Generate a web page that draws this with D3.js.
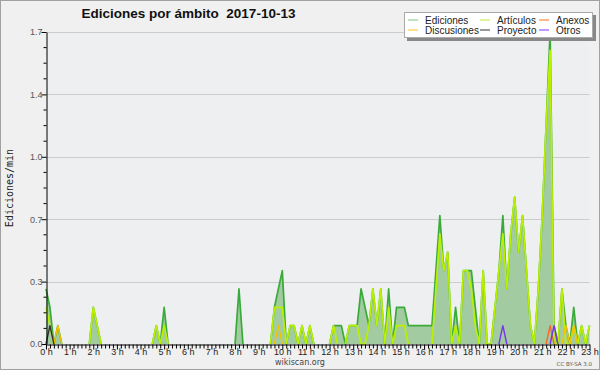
<!DOCTYPE html>
<html>
<head>
<meta charset="utf-8">
<script src="https://cdn.jsdelivr.net/npm/d3@7"></script>
<style>
  body { margin: 0; background: #fff; }
  svg { display: block; }
</style>
</head>
<body>
<script>
// edits per minute, one value every 10 minutes (0 h .. 23 h)
var ediciones = [
  0.3,0.2,0,0.1,0,0,0,0,0,0,0,0,
  0.2,0.1,0,0,0,0,0,0,0,0,0,0,
  0,0,0,0,0.1,0,0.2,0,0,0,0,0,
  0,0,0,0,0,0,0,0,0,0,0,0,
  0,0.3,0,0,0,0,0,0,0,0,0.2,0.3,
  0.4,0,0.1,0.1,0,0.1,0,0.1,0,0,0,0,
  0,0.1,0.1,0.1,0,0.1,0.1,0.1,0.3,0.2,0.1,0.3,
  0.1,0.3,0,0.3,0,0.2,0.2,0.2,0.1,0.1,0.1,0.1,
  0.1,0.1,0.1,0.4,0.7,0.4,0.5,0,0.2,0,0.4,0.4,
  0.4,0.2,0,0.4,0,0,0.2,0.4,0.7,0.3,0.6,0.8,
  0.5,0.7,0.4,0.1,0,0.3,0.7,1.2,1.7,0.1,0,0.3,
  0.1,0,0.2,0,0.1,0,0.1
];
var articulos = [
  0.2,0.1,0,0,0,0,0,0,0,0,0,0,
  0.2,0.1,0,0,0,0,0,0,0,0,0,0,
  0,0,0,0,0.1,0,0.1,0,0,0,0,0,
  0,0,0,0,0,0,0,0,0,0,0,0,
  0,0,0,0,0,0,0,0,0,0,0.2,0.2,
  0.2,0,0.1,0.1,0,0.1,0,0.1,0,0,0,0,
  0,0.1,0,0,0,0.1,0.1,0.1,0,0,0.1,0.3,
  0.1,0.3,0,0.2,0,0.1,0.1,0.1,0,0,0,0,
  0,0,0,0.3,0.6,0.4,0.5,0,0.1,0,0.4,0.4,
  0.3,0.1,0,0.4,0,0,0.2,0.4,0.6,0.3,0.6,0.8,
  0.5,0.7,0.4,0.1,0,0.3,0.7,1.2,1.6,0,0,0.3,
  0,0,0.1,0,0.1,0,0.1
];
var discusiones = [
  0,0,0,0.1,0,0,0,0,0,0,0,0,
  0,0,0,0,0,0,0,0,0,0,0,0,
  0,0,0,0,0,0,0,0,0,0,0,0,
  0,0,0,0,0,0,0,0,0,0,0,0,
  0,0,0,0,0,0,0,0,0,0,0,0.1,
  0,0,0,0,0,0,0,0,0,0,0,0,
  0,0,0,0,0,0,0,0,0,0,0,0,
  0,0,0,0,0,0,0,0,0,0,0,0,
  0,0,0,0,0,0,0,0,0,0,0,0,
  0,0,0,0,0,0,0,0,0,0,0,0,
  0,0,0,0,0,0,0,0,0,0,0,0,
  0.1,0,0.1,0,0,0,0
];
var anexos = [
  0,0,0,0,0,0,0,0,0,0,0,0,
  0,0,0,0,0,0,0,0,0,0,0,0,
  0,0,0,0,0,0,0,0,0,0,0,0,
  0,0,0,0,0,0,0,0,0,0,0,0,
  0,0,0,0,0,0,0,0,0,0,0,0,
  0,0,0,0,0,0,0,0,0,0,0,0,
  0,0,0,0,0,0,0,0,0,0,0,0,
  0,0,0,0,0,0,0,0,0,0,0,0,
  0,0,0,0,0,0,0,0,0,0,0,0,
  0,0,0,0,0,0,0,0,0,0,0,0,
  0,0,0,0,0,0,0,0,0.1,0,0,0,
  0,0,0,0,0,0,0
];
var proyecto = [
  0,0.1,0,0,0,0,0,0,0,0,0,0,
  0,0,0,0,0,0,0,0,0,0,0,0,
  0,0,0,0,0,0,0,0,0,0,0,0,
  0,0,0,0,0,0,0,0,0,0,0,0,
  0,0,0,0,0,0,0,0,0,0,0,0,
  0,0,0,0,0,0,0,0,0,0,0,0,
  0,0,0,0,0,0,0,0,0,0,0,0,
  0,0,0,0,0,0,0,0,0,0,0,0,
  0,0,0,0,0,0,0,0,0,0,0,0,
  0,0,0,0,0,0,0,0,0,0,0,0,
  0,0,0,0,0,0,0,0,0,0,0,0,
  0,0,0,0,0,0,0
];
var otros = [
  0,0,0,0,0,0,0,0,0,0,0,0,
  0,0,0,0,0,0,0,0,0,0,0,0,
  0,0,0,0,0,0,0,0,0,0,0,0,
  0,0,0,0,0,0,0,0,0,0,0,0,
  0,0,0,0,0,0,0,0,0,0,0,0,
  0,0,0,0,0,0,0,0,0,0,0,0,
  0,0,0,0,0,0,0,0,0,0,0,0,
  0,0,0,0,0,0,0,0,0,0,0,0,
  0,0,0,0,0,0,0,0,0,0,0,0,
  0,0,0,0,0,0,0,0,0.1,0,0,0,
  0,0,0,0,0,0,0,0,0,0.1,0,0,
  0,0,0,0,0,0,0
];

var hourLabels = ['0 h','1 h','2 h','3 h','4 h','5 h','6 h','7 h','8 h','9 h','10 h','11 h',
                  '12 h','13 h','14 h','15 h','16 h','17 h','18 h','19 h','20 h','21 h','22 h','23 h'];
var yTicks = [0, 0.34, 0.68, 1.02, 1.36, 1.7];

var legendItems = [
  {name: 'Ediciones',   color: '#8fd18f', col: 0, row: 0},
  {name: 'Discusiones', color: '#ffcc44', col: 0, row: 1},
  {name: 'Artículos',   color: '#ccee55', col: 1, row: 0},
  {name: 'Proyecto',    color: '#555555', col: 1, row: 1},
  {name: 'Anexos',      color: '#ff8844', col: 2, row: 0},
  {name: 'Otros',       color: '#9955ff', col: 2, row: 1}
];

var w = 600;
var h = 370;
var plotL = 46, plotR = 589.5, plotT = 32, plotB = 344;

var svg = d3.select('body')
            .append('svg')
            .attr('width', w)
            .attr('height', h);

svg.append('rect')
  .attr('x', 0.5).attr('y', 0.5)
  .attr('width', w - 1).attr('height', h - 1)
  .attr('fill', '#f0f0f0')
  .attr('stroke', '#a0a0a0');

svg.append('rect')
  .attr('x', plotL).attr('y', plotT)
  .attr('width', plotR - plotL).attr('height', plotB - plotT)
  .attr('fill', '#eeeff1');

var x = d3.scaleLinear().domain([0, ediciones.length - 1]).range([plotL, plotR]);
var y = d3.scaleLinear().domain([0, 1.7]).range([plotB, plotT]);

// grid
svg.selectAll('line.grid')
  .data(yTicks.slice(1))
  .enter()
  .append('line')
    .attr('class', 'grid')
    .attr('x1', plotL).attr('x2', plotR)
    .attr('y1', d => Math.round(y(d)) + 0.5)
    .attr('y2', d => Math.round(y(d)) + 0.5)
    .attr('stroke', '#cccccc');

// area of all edits
var area = d3.area()
  .x((d, i) => x(i))
  .y0(plotB)
  .y1(d => y(d));

svg.append('path')
  .datum(ediciones)
  .attr('d', area)
  .attr('fill', '#a2cba2');

// only draw the parts of a series that leave the baseline
function drawSeries(values, color, width) {
  var line = d3.line()
    .defined((d, i) => d > 0 || values[i - 1] > 0 || values[i + 1] > 0)
    .x((d, i) => x(i))
    .y(d => y(d));
  svg.append('path')
    .datum(values)
    .attr('d', line)
    .attr('fill', 'none')
    .attr('stroke', color)
    .attr('stroke-width', width)
    .attr('stroke-linejoin', 'round');
}

drawSeries(ediciones, '#3aaa3a', 1.7);
drawSeries(articulos, '#bbf000', 1.7);
drawSeries(discusiones, '#f5c400', 1.4);
drawSeries(anexos, '#ff6622', 1.4);
drawSeries(proyecto, '#333333', 1.4);
drawSeries(otros, '#7733ee', 1.4);

// y axis
var yAxis = d3.axisLeft(y)
  .tickValues(yTicks)
  .tickFormat(d3.format('.1f'))
  .tickSize(5)
  .tickSizeOuter(0);

var gy = svg.append('g')
  .attr('transform', 'translate(' + (plotL + 0.5) + ',0)')
  .call(yAxis);
gy.selectAll('line').attr('stroke', '#000');
gy.select('.domain').attr('stroke', '#000');
gy.selectAll('text')
  .attr('font-family', 'Liberation Sans, Arial, sans-serif')
  .attr('font-size', '9px')
  .attr('fill', '#555')
  .attr('x', -4);

var yMinor = d3.range(0, 20).map(i => i * 0.085).filter((d, i) => i % 4 != 0);
gy.selectAll('line.minor')
  .data(yMinor)
  .enter()
  .append('line')
    .attr('class', 'minor')
    .attr('x1', -3).attr('x2', 0)
    .attr('y1', d => y(d)).attr('y2', d => y(d))
    .attr('stroke', '#000');

// x axis
var xAxis = d3.axisBottom(x)
  .tickValues(d3.range(0, ediciones.length))
  .tickFormat((d) => d % 6 == 0 ? hourLabels[d / 6] : '')
  .tickSize(4)
  .tickSizeOuter(0);

var gx = svg.append('g')
  .attr('transform', 'translate(0,' + (plotB + 0.5) + ')')
  .call(xAxis);
gx.selectAll('line').attr('stroke', '#000');
gx.select('.domain').attr('stroke', '#000');
gx.selectAll('.tick').filter(d => d % 6 == 0).select('line').attr('y2', 5);
gx.selectAll('text')
  .attr('font-family', 'Liberation Sans, Arial, sans-serif')
  .attr('font-size', '9px')
  .attr('fill', '#222')
  .attr('y', 4);

// title and labels
svg.append('text')
  .text('Ediciones por ámbito  2017-10-13')
  .attr('x', 188.5).attr('y', 18)
  .attr('text-anchor', 'middle')
  .attr('font-family', 'Liberation Sans, Arial, sans-serif')
  .attr('font-weight', 'bold')
  .attr('font-size', '13.5px')
  .attr('fill', '#111')
  .style('white-space', 'pre');

svg.append('text')
  .text('Ediciones/min')
  .attr('transform', 'translate(13,188) rotate(-90)')
  .attr('text-anchor', 'middle')
  .attr('font-family', 'DejaVu Sans Mono, monospace')
  .attr('font-size', '10px')
  .attr('fill', '#222');

svg.append('text')
  .text('wikiscan.org')
  .attr('x', 300).attr('y', 365)
  .attr('text-anchor', 'middle')
  .attr('font-family', 'DejaVu Sans, sans-serif')
  .attr('font-size', '8px')
  .attr('fill', '#444');

svg.append('text')
  .text('CC BY-SA 3.0')
  .attr('x', 592).attr('y', 366)
  .attr('text-anchor', 'end')
  .attr('font-family', 'DejaVu Sans, sans-serif')
  .attr('font-size', '5.5px')
  .attr('fill', '#555');

// legend
var lg = svg.append('g').attr('transform', 'translate(404,12)');
lg.append('rect')
  .attr('x', 3).attr('y', 3)
  .attr('width', 189).attr('height', 26)
  .attr('fill', '#888');
lg.append('rect')
  .attr('x', 0.5).attr('y', 0.5)
  .attr('width', 188).attr('height', 25)
  .attr('fill', '#fff')
  .attr('stroke', '#aaa');

var colX = [4, 76, 135];
var item = lg.selectAll('g.item')
  .data(legendItems)
  .enter()
  .append('g')
    .attr('class', 'item')
    .attr('transform', d => 'translate(' + colX[d.col] + ',' + (8 + d.row * 10) + ')');
item.append('line')
  .attr('x1', 0).attr('x2', 10)
  .attr('y1', 0).attr('y2', 0)
  .attr('stroke', d => d.color)
  .attr('stroke-width', 1.2);
item.append('text')
  .text(d => d.name)
  .attr('x', 17).attr('y', 3.5)
  .attr('font-family', 'Liberation Sans, Arial, sans-serif')
  .attr('font-size', '10px')
  .attr('fill', '#222');
</script>
</body>
</html>
